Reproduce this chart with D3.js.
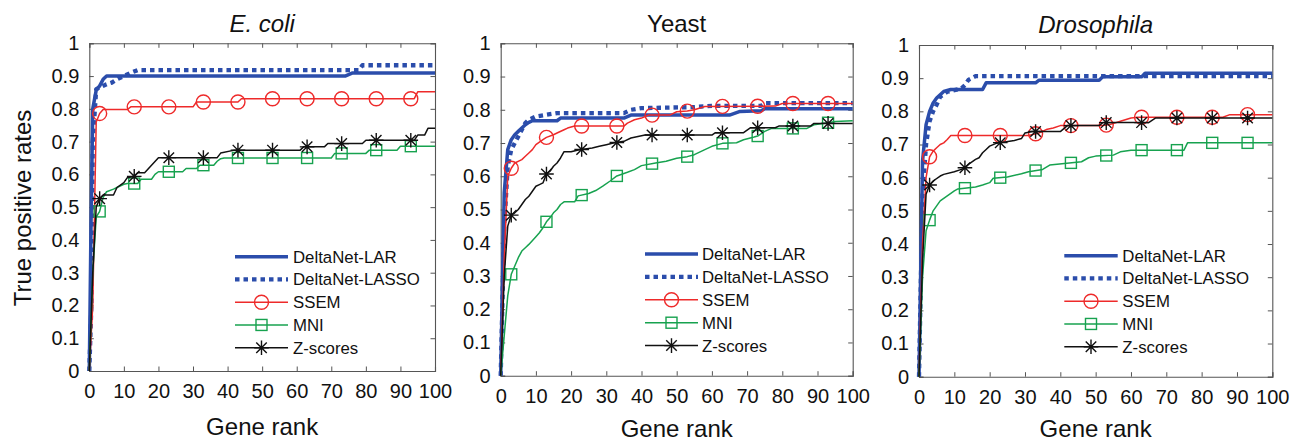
<!DOCTYPE html>
<html>
<head>
<meta charset="utf-8">
<script src="https://cdn.jsdelivr.net/npm/d3@7/dist/d3.min.js"></script>
<style>
  html, body { margin: 0; padding: 0; background: #fff; }
  svg { display: block; }
  text { font-family: "Liberation Sans", Arial, Helvetica, sans-serif; fill: #111; }
</style>
</head>
<body>
<svg id="chart" width="1300" height="442"></svg>
<script>
// ---------------- DATA ----------------
const panelTitles = ["E. coli", "Yeast", "Drosophila"];
const seriesNames = ["DeltaNet-LAR", "DeltaNet-LASSO", "SSEM", "MNI", "Z-scores"];
const xTicks = [0, 10, 20, 30, 40, 50, 60, 70, 80, 90, 100];
const yTicks = [0, 0.1, 0.2, 0.3, 0.4, 0.5, 0.6, 0.7, 0.8, 0.9, 1];
const yTickLabels = ["0", "0.1", "0.2", "0.3", "0.4", "0.5", "0.6", "0.7", "0.8", "0.9", "1"];
const markerRanks = [3, 13, 23, 33, 43, 53, 63, 73, 83, 93];

// E. coli  [gene rank, true positive rate]
const ecoliLAR = [[0,0],[0.5,0.45],[1,0.8],[2,0.857],[3,0.87],[4,0.89],[5,0.90],[74,0.90],[76,0.909],[100,0.909]];
const ecoliLASSO = [[0,0],[0.6,0.2],[1,0.7],[2,0.86],[4,0.87],[5,0.875],[6.5,0.88],[8,0.89],[10,0.90],[12,0.91],[14,0.918],[78,0.918],[79,0.933],[100,0.933]];
const ecoliSSEM = [[0,0],[1,0.2],[2,0.76],[3,0.786],[4,0.798],[11,0.798],[12,0.806],[30,0.806],[31,0.821],[43,0.821],[44,0.831],[94,0.831],[95,0.852],[100,0.852]];
const ecoliMNI = [[0,0],[1,0.3],[2,0.47],[3,0.487],[4,0.53],[5,0.547],[7,0.555],[8,0.56],[10,0.57],[11,0.572],[14,0.572],[15,0.585],[18,0.585],[19,0.60],[20,0.608],[27,0.608],[28,0.618],[31,0.618],[32,0.628],[36,0.628],[37,0.64],[38,0.648],[39,0.65],[70,0.65],[71,0.664],[80,0.664],[81,0.674],[89,0.674],[90,0.686],[100,0.686]];
const ecoliZ = [[0,0],[1,0.3],[2,0.50],[3,0.526],[4,0.537],[7,0.537],[8,0.56],[10,0.575],[11,0.59],[13,0.594],[14,0.605],[16,0.605],[20,0.651],[37,0.651],[38,0.665],[42,0.674],[61,0.674],[62,0.684],[68,0.684],[69,0.694],[79,0.694],[80,0.704],[94,0.704],[95,0.72],[97,0.72],[98,0.741],[100,0.741]];

// Yeast
const yeastLAR = [[0,0],[1,0.55],[2,0.68],[3,0.71],[4,0.725],[5,0.735],[6,0.745],[7,0.755],[8,0.762],[9,0.767],[16,0.767],[17,0.775],[35,0.775],[37,0.784],[65,0.784],[68,0.795],[74,0.797],[75,0.803],[100,0.803]];
const yeastLASSO = [[0,0],[1,0.45],[2,0.63],[3,0.68],[4,0.70],[5,0.72],[6,0.74],[7,0.76],[8,0.77],[10,0.78],[13,0.785],[16,0.79],[35,0.79],[37,0.80],[40,0.805],[55,0.808],[60,0.812],[74,0.812],[75,0.82],[100,0.82]];
const yeastSSEM = [[0,0],[1,0.35],[2,0.60],[3,0.624],[4,0.64],[6,0.65],[7,0.66],[8,0.67],[9,0.68],[10,0.695],[12,0.71],[13,0.717],[15,0.725],[16,0.73],[18,0.74],[19,0.745],[21,0.751],[35,0.751],[36,0.76],[38,0.77],[40,0.775],[42,0.784],[48,0.784],[50,0.794],[53,0.796],[55,0.80],[58,0.81],[78,0.811],[80,0.819],[100,0.819]];
const yeastMNI = [[0,0],[1,0.12],[2,0.24],[3,0.305],[4,0.33],[5,0.355],[6,0.375],[7,0.385],[8,0.395],[10,0.418],[11,0.43],[12,0.445],[13,0.463],[14,0.475],[15,0.49],[16,0.50],[17,0.515],[18,0.523],[21,0.523],[22,0.541],[25,0.548],[27,0.557],[29,0.57],[31,0.585],[33,0.601],[36,0.612],[38,0.62],[40,0.632],[44,0.64],[47,0.645],[50,0.654],[53,0.659],[55,0.665],[58,0.68],[60,0.69],[63,0.699],[67,0.701],[69,0.71],[72,0.718],[73,0.721],[75,0.735],[77,0.744],[87,0.744],[89,0.755],[93,0.761],[95,0.765],[100,0.767]];
const yeastZ = [[0,0],[1,0.3],[2,0.45],[3,0.483],[4,0.49],[5,0.5],[6,0.515],[7,0.53],[8,0.54],[9,0.555],[10,0.57],[11,0.575],[12,0.58],[13,0.607],[14,0.615],[15,0.63],[16,0.64],[17,0.655],[18,0.674],[20,0.674],[22,0.679],[26,0.685],[28,0.69],[30,0.695],[32,0.70],[35,0.705],[37,0.715],[41,0.724],[60,0.724],[61,0.731],[69,0.731],[71,0.746],[78,0.746],[79,0.751],[88,0.751],[89,0.759],[100,0.759]];

// Drosophila
const drosoLAR = [[0,0],[1,0.65],[2,0.76],[3,0.80],[4,0.825],[5,0.84],[6,0.85],[7,0.86],[9,0.866],[18,0.866],[19,0.886],[33,0.886],[34,0.894],[51,0.894],[52,0.904],[63,0.904],[64,0.915],[100,0.915]];
const drosoLASSO = [[0,0],[1,0.55],[2,0.70],[3,0.77],[4,0.80],[5,0.82],[6,0.844],[8,0.859],[11,0.866],[12,0.869],[13,0.879],[14,0.895],[16,0.906],[100,0.906]];
const drosoSSEM = [[0,0],[1,0.40],[2,0.60],[3,0.663],[4,0.68],[5,0.69],[6,0.70],[7,0.705],[8,0.715],[9,0.727],[31,0.727],[34,0.735],[36,0.745],[38,0.75],[40,0.757],[52,0.757],[54,0.76],[57,0.77],[60,0.78],[62,0.782],[86,0.782],[88,0.79],[100,0.79]];
const drosoMNI = [[0,0],[1,0.30],[2,0.44],[3,0.472],[4,0.50],[5,0.515],[6,0.53],[8,0.545],[10,0.56],[11,0.566],[16,0.572],[18,0.578],[20,0.585],[21,0.598],[25,0.602],[29,0.612],[31,0.618],[35,0.625],[37,0.638],[46,0.648],[48,0.66],[50,0.665],[55,0.668],[57,0.678],[60,0.683],[75,0.683],[76,0.705],[100,0.705]];
const drosoZ = [[0,0],[1,0.35],[2,0.55],[3,0.578],[4,0.59],[6,0.605],[7,0.61],[10,0.618],[12,0.625],[13,0.63],[14,0.64],[16,0.655],[17,0.66],[18,0.675],[19,0.685],[20,0.695],[22,0.704],[27,0.712],[29,0.718],[30,0.735],[32,0.739],[40,0.739],[41,0.748],[42,0.757],[51,0.757],[52,0.766],[65,0.766],[67,0.78],[100,0.78]];

// ---------------- STYLE / LAYOUT ----------------
const COLORS = { lar: "#2b4dab", lasso: "#2b4dab", ssem: "#ee2a2a", mni: "#17a24f", z: "#111111" };
const styles = [
  { key: "lar",   color: COLORS.lar,   width: 3.5, dash: null,    marker: null },
  { key: "lasso", color: COLORS.lasso, width: 4.3, dash: "4.5,4", marker: null },
  { key: "ssem",  color: COLORS.ssem,  width: 1.5, dash: null,    marker: "circle" },
  { key: "mni",   color: COLORS.mni,   width: 1.5, dash: null,    marker: "square" },
  { key: "z",     color: COLORS.z,     width: 1.5, dash: null,    marker: "star" }
];

const panels = [
  { title: panelTitles[0], italic: true,  x0: 89.3,  x1: 435,    y0: 43.3, y1: 371,   titleY: 31.5, xlabY: 435, series: [ecoliLAR, ecoliLASSO, ecoliSSEM, ecoliMNI, ecoliZ], leg: { lx0: 235, lx1: 288, tx: 293, y: 256.7, dy: 22.75 }, ylabel: true },
  { title: panelTitles[1], italic: false, x0: 500.7, x1: 852.7,  y0: 43.3, y1: 375.7, titleY: 32,   xlabY: 437, series: [yeastLAR, yeastLASSO, yeastSSEM, yeastMNI, yeastZ], leg: { lx0: 645, lx1: 698, tx: 702, y: 254, dy: 22.9 } },
  { title: panelTitles[2], italic: true,  x0: 919,   x1: 1272.3, y0: 45,   y1: 376.7, titleY: 33,   xlabY: 437, series: [drosoLAR, drosoLASSO, drosoSSEM, drosoMNI, drosoZ], leg: { lx0: 1064.3, lx1: 1117.7, tx: 1122.3, y: 255.7, dy: 22.75 } }
];

const svg = d3.select("#chart");
const AX = "#555";

function valueAt(data, r) {
  const i = d3.bisector(d => d[0]).left(data, r);
  if (i <= 0) return data[0][1];
  if (i >= data.length) return data[data.length - 1][1];
  const a = data[i - 1], b = data[i];
  if (b[0] === r) return b[1];
  return a[1] + (b[1] - a[1]) * (r - a[0]) / (b[0] - a[0]);
}

function drawMarker(g, type, cx, cy, color) {
  if (type === "circle") {
    g.append("circle").attr("cx", cx).attr("cy", cy).attr("r", 7)
      .attr("fill", "none").attr("stroke", color).attr("stroke-width", 1.4);
  } else if (type === "square") {
    g.append("rect").attr("x", cx - 5.5).attr("y", cy - 5.5).attr("width", 11).attr("height", 11)
      .attr("fill", "none").attr("stroke", color).attr("stroke-width", 1.4);
  } else if (type === "star") {
    const s = 7.3, d = s * 0.72;
    const p = `M${cx - s},${cy}L${cx + s},${cy}M${cx},${cy - s}L${cx},${cy + s}` +
              `M${cx - d},${cy - d}L${cx + d},${cy + d}M${cx - d},${cy + d}L${cx + d},${cy - d}`;
    g.append("path").attr("d", p).attr("fill", "none").attr("stroke", color).attr("stroke-width", 1.4);
  }
}

panels.forEach((P, pi) => {
  const x = d3.scaleLinear().domain([0, 100]).range([P.x0, P.x1]);
  const y = d3.scaleLinear().domain([0, 1]).range([P.y1, P.y0]);
  const g = svg.append("g");

  // axes (box with inward ticks on all sides)
  const tl = 4.5;
  const bottom = g.append("g").attr("transform", `translate(0,${P.y1})`)
    .call(d3.axisBottom(x).tickValues(xTicks).tickSize(-tl).tickPadding(13).tickFormat(d3.format("d")));
  const top = g.append("g").attr("transform", `translate(0,${P.y0})`)
    .call(d3.axisTop(x).tickValues(xTicks).tickSize(-tl).tickFormat(""));
  const left = g.append("g").attr("transform", `translate(${P.x0},0)`)
    .call(d3.axisLeft(y).tickValues(yTicks).tickSize(-tl).tickPadding(10).tickFormat((d, i) => yTickLabels[i]));
  const right = g.append("g").attr("transform", `translate(${P.x1},0)`)
    .call(d3.axisRight(y).tickValues(yTicks).tickSize(-tl).tickFormat(""));
  [bottom, top, left, right].forEach(a => {
    a.select(".domain").attr("stroke", AX).attr("stroke-width", 1.1);
    a.selectAll(".tick line").attr("stroke", AX).attr("stroke-width", 1);
    a.selectAll("text").attr("font-size", 20).attr("fill", "#111")
      .attr("font-family", '"Liberation Sans", Arial, sans-serif');
  });
  bottom.selectAll("text").attr("dy", "0.71em");

  // series lines
  const line = d3.line().x(d => x(d[0])).y(d => y(d[1]));
  const plot = g.append("g");
  P.series.forEach((data, si) => {
    const st = styles[si];
    const path = plot.append("path").datum(data).attr("d", line)
      .attr("fill", "none").attr("stroke", st.color).attr("stroke-width", st.width)
      .attr("stroke-linejoin", "round");
    if (st.dash) path.attr("stroke-dasharray", st.dash);
    if (st.marker) {
      markerRanks.forEach(r => drawMarker(plot, st.marker, x(r), y(valueAt(data, r)), st.color));
    }
  });

  // legend
  const L = P.leg;
  styles.forEach((st, si) => {
    const ly = L.y + si * L.dy;
    const ln = g.append("line").attr("x1", L.lx0).attr("x2", L.lx1).attr("y1", ly).attr("y2", ly)
      .attr("stroke", st.color).attr("stroke-width", st.width);
    if (st.dash) ln.attr("stroke-dasharray", st.dash);
    if (st.marker) drawMarker(g, st.marker, (L.lx0 + L.lx1) / 2, ly, st.color);
    g.append("text").attr("x", L.tx).attr("y", ly).attr("dy", "0.36em")
      .attr("font-size", 16.8).text(seriesNames[si]);
  });

  // title
  g.append("text").attr("x", (P.x0 + P.x1) / 2).attr("y", P.titleY)
    .attr("text-anchor", "middle").attr("font-size", 24)
    .attr("font-style", P.italic ? "italic" : "normal").text(P.title);

  // x label
  g.append("text").attr("x", (P.x0 + P.x1) / 2).attr("y", P.xlabY)
    .attr("text-anchor", "middle").attr("font-size", 24).text("Gene rank");

  if (P.ylabel) {
    g.append("text").attr("transform", `translate(31,208) rotate(-90)`)
      .attr("text-anchor", "middle").attr("font-size", 24).text("True positive rates");
  }
});
</script>
</body>
</html>
